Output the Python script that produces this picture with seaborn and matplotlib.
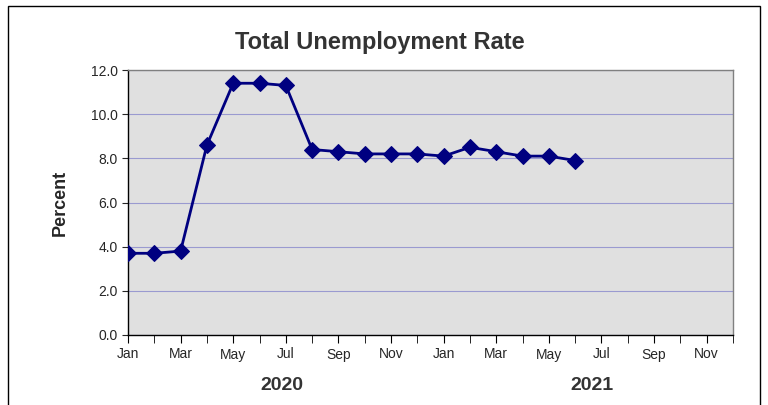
import numpy as np
import pandas as pd
import seaborn as sns
import matplotlib.pyplot as plt

# monthly values, Jan 2020 .. Jun 2021
months = np.arange(18)
rate = [3.7, 3.7, 3.8, 8.6, 11.4, 11.4, 11.3, 8.4, 8.3, 8.2, 8.2, 8.2,
        8.1, 8.5, 8.3, 8.1, 8.1, 7.9]
tick_pos = np.arange(0, 24, 2)
tick_labels = ['Jan', 'Mar', 'May', 'Jul', 'Sep', 'Nov'] * 2
years = ['2020', '2021']

df = pd.DataFrame({'month': months, 'rate': rate})

sns.set_style('white')
plt.rcParams['font.family'] = ['Liberation Sans', 'DejaVu Sans']

fig = plt.figure(figsize=(7.68, 4.05), dpi=100)
ax = fig.add_axes([128 / 768, 1 - 335 / 405, 605 / 768, 265 / 405])
ax.set_facecolor('#e0e0e0')

sns.lineplot(data=df, x='month', y='rate', ax=ax, color='#000080', lw=2,
             marker='D', markersize=8, markeredgecolor='#000080', zorder=3)

ax.set_xlim(0, 23)
ax.set_ylim(0, 12)
ax.set_yticks(np.arange(0, 12.1, 2))
ax.set_yticklabels([f'{v:.1f}' for v in np.arange(0, 12.1, 2)], fontsize=10)
ax.set_xticks(tick_pos)
ax.set_xticklabels(tick_labels, fontsize=10)
ax.set_xticks(np.arange(0, 24, 1), minor=True)
ax.tick_params(axis='x', which='both', direction='out', length=6, color='black', bottom=True, pad=3)
ax.tick_params(axis='y', direction='out', length=4, left=True)
ax.grid(axis='y', color='#9a9ad0', lw=0.8)
for s in ax.spines.values():
    s.set_color('#808080')
    s.set_linewidth(1)
ax.spines['bottom'].set_color('black')
ax.spines['left'].set_color('black')
ax.set_xlabel('')
ax.set_ylabel('Percent', fontsize=13, fontweight='bold', labelpad=16)

fig.text(380 / 768, 1 - 42 / 405, 'Total Unemployment Rate',
         ha='center', va='center', fontsize=17, fontweight='bold', color='#333333')
fig.text(282 / 768, 1 - 385 / 405, years[0], ha='center', va='center', fontsize=14, fontweight='bold', color='#333333')
fig.text(592 / 768, 1 - 385 / 405, years[1], ha='center', va='center', fontsize=14, fontweight='bold', color='#333333')

fig.patches.append(plt.Rectangle((8 / 768, -0.01), 752 / 768, 1.0 - 6 / 405 + 0.01,
                                 transform=fig.transFigure, fill=False, ec='black', lw=1))

fig.savefig('out.png', dpi=100)
